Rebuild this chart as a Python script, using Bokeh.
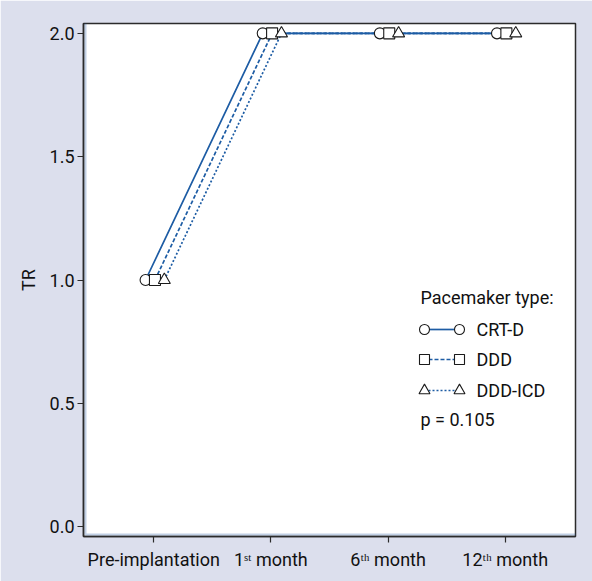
from bokeh.plotting import figure
from bokeh.models import Range1d, FixedTicker, BoxAnnotation
from bokeh.core.properties import value
from bokeh.embed import file_html
from bokeh.resources import INLINE

# ---- data ----
timepoints = [0, 1, 2, 3]
tick_labels = ["Pre-implantation", "1ˢᵗ month", "6ᵗʰ month", "12ᵗʰ month"]
crt_d = [1.0, 2.0, 2.0, 2.0]
ddd = [1.0, 2.0, 2.0, 2.0]
ddd_icd = [1.0, 2.0, 2.0, 2.0]
series_names = ["CRT-D", "DDD", "DDD-ICD"]
legend_title = "Pacemaker type:"
p_text = "p = 0.105"
y_ticks = [0.0, 0.5, 1.0, 1.5, 2.0]

FONT = "Roboto"
FS = "18px"
TXT = "#111111"
BLUE = "#1d5ca4"
BG = "#dcdfed"

p = figure(width=592, height=581, output_backend="svg", toolbar_location=None,
           x_range=Range1d(-0.6, 3.6), y_range=Range1d(-0.04, 2.04),
           min_border_left=83, min_border_top=23, min_border_right=17,
           min_border_bottom=45)
p.border_fill_color = BG
p.background_fill_color = "white"
p.outline_line_color = "#2b2b2b"
p.outline_line_width = 1.5
p.grid.visible = False

# page border line (top/left visible in reference)
p.add_layout(BoxAnnotation(left=2, right=700, top=2, bottom=700,
                           left_units="screen", right_units="screen",
                           top_units="screen", bottom_units="screen",
                           fill_color=None, line_color="#2d5fa5", line_width=2,
                           level="overlay"))

# pixel-space ranges for legend placement (frame spans x 83..575, y 23..536)
p.extra_x_ranges = {"px": Range1d(83, 575)}
p.extra_y_ranges = {"py": Range1d(536, 23)}

for ax in (p.xaxis[0], p.yaxis[0]):
    ax.major_label_text_font = FONT
    ax.major_label_text_font_size = FS
    ax.major_label_text_color = TXT
    ax.axis_line_color = "#2b2b2b"
    ax.axis_line_width = 1.5
    ax.major_tick_line_color = "#2b2b2b"
    ax.major_tick_line_width = 1.2
    ax.major_tick_out = 6
    ax.major_tick_in = 0
    ax.minor_tick_line_color = None

p.xaxis.ticker = FixedTicker(ticks=timepoints)
p.xaxis.major_label_overrides = {t: l for t, l in zip(timepoints, tick_labels)}
p.xaxis.major_label_standoff = 6
p.yaxis.ticker = FixedTicker(ticks=y_ticks)
p.yaxis.major_label_overrides = {t: f"{t:.1f}" for t in y_ticks}
p.yaxis.major_label_standoff = 3
p.yaxis.axis_label = "TR"
p.yaxis.axis_label_text_font = FONT
p.yaxis.axis_label_text_font_size = FS
p.yaxis.axis_label_text_font_style = "normal"
p.yaxis.axis_label_text_color = TXT
p.yaxis.axis_label_standoff = 8

offsets = [-0.07, 0.01, 0.09]
dashes = ["solid", "4 2", "2 2"]
markers = ["circle", "square", "triangle"]
sizes = [11, 11, 12]
data = [crt_d, ddd, ddd_icd]

for vals, off, dash in zip(data, offsets, dashes):
    xs = [t + off for t in timepoints]
    p.line(xs, vals, line_color=BLUE, line_width=1.7, line_dash=dash)
for vals, off, mk, sz in zip(data, offsets, markers, sizes):
    xs = [t + off for t in timepoints]
    p.scatter(xs, vals, marker=mk, size=sz, fill_color="white",
              line_color="#1a1a1a", line_width=1.1)

# ---- manual legend (pixel coordinates) ----
rows_y = [329, 359, 390]
for name, dash, mk, sz, ry in zip(series_names, dashes, markers, sizes, rows_y):
    p.line([428, 455], [ry, ry], line_color=BLUE, line_width=1.7, line_dash=dash,
           x_range_name="px", y_range_name="py")
    p.scatter([424, 459], [ry, ry], marker=mk, size=sz - 1, fill_color="white",
              line_color="#1a1a1a", line_width=1.1, x_range_name="px", y_range_name="py")
    p.text([476], [ry], text=[name], text_font=value(FONT), text_font_size=FS,
           text_baseline="middle", text_color=TXT,
           x_range_name="px", y_range_name="py")

p.text([420], [297], text=[legend_title], text_font=value(FONT), text_font_size=FS,
       text_baseline="middle", text_color=TXT, x_range_name="px", y_range_name="py")
p.text([420], [419], text=[p_text], text_font=value(FONT), text_font_size=FS,
       text_baseline="middle", text_color=TXT, x_range_name="px", y_range_name="py")

open("out.html", "w").write(file_html(p, INLINE))
